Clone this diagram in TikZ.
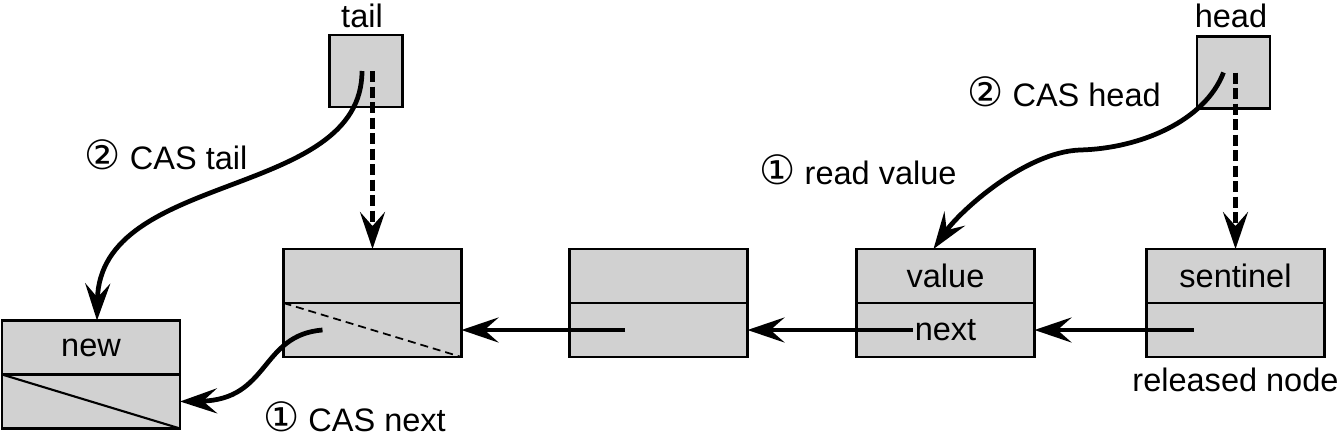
\documentclass[tikz,border=0pt]{standalone}
\usepackage{fontspec}
\setmainfont{Liberation Sans}
\newfontfamily\circfont{DejaVu Sans}
\usetikzlibrary{positioning,arrows.meta}
\tikzset{
  cellbox/.style={draw, line width=1.3pt, fill=black!18, minimum width=3.56cm, minimum height=1.08cm, inner sep=0pt, outer sep=0pt},
  ptrbox/.style={draw, line width=1.3pt, fill=black!18, minimum width=1.46cm, minimum height=1.44cm, inner sep=0pt},
  linkarrow/.style={-{Stealth[length=7.4mm, width=5mm, inset=2.8mm]}, line width=2.7pt},
  oldarrow/.style={linkarrow, dash pattern=on 2.2mm off 0.9mm},
  relabel/.style={inner sep=1pt}
}
\newcommand{\stepno}[1]{{\circfont\fontsize{23}{21}\selectfont #1}}

\begin{document}
\begin{tikzpicture}[every node/.style={font=\fontsize{18.5}{21}\selectfont}]
  \useasboundingbox (0,0) rectangle (26.86,8.82);
  % head and tail
  \node[ptrbox] (tailptr) at (7.32,7.40) {};
  \node[ptrbox] (headptr) at (24.67,7.37) {};
  \node (taillbl) at (7.24,8.50) {tail};
  \node (headlbl) at (24.62,8.50) {head};
  % list cells
  \node[cellbox] (newval) at (1.82,1.87) {new};
  \node[cellbox, below=0pt of newval] (newnxt) {};
  \node[cellbox] (n2val) at (7.45,3.30) {};
  \node[cellbox, below=0pt of n2val] (n2nxt) {};
  \node[cellbox, right=2.16cm of n2val] (n3val) {};
  \node[cellbox, below=0pt of n3val] (n3nxt) {};
  \node[cellbox, right=2.18cm of n3val] (valval) {value};
  \node[cellbox, below=0pt of valval] (valnxt) {next};
  \node[cellbox, right=2.24cm of valval] (sentval) {sentinel};
  \node[cellbox, below=0pt of sentval] (sentnxt) {};
  \node[below=0.1cm of sentnxt] (rellbl) {released node};
  \draw[line width=1.2pt] (newnxt.north west) -- (newnxt.south east);
  \draw[line width=1pt, dash pattern=on 1.6mm off 1mm] (n2nxt.north west) -- (n2nxt.south east);
  % step labels
  \node[relabel] (castail) at (3.32,5.72) {\stepno{②} CAS tail};
  \node[relabel] (readval) at (17.16,5.42) {\stepno{①} read value};
  \node[relabel] (cashead) at (21.28,6.98) {\stepno{②} CAS head};
  \node[relabel] (casnext) at (7.09,0.48) {\stepno{①} CAS next};
  % pointers
  \draw[oldarrow] (tailptr.center -| n2val.north) -- (n2val.north);
  \draw[oldarrow] (headptr.center -| sentval.north) -- (sentval.north);
  \draw[linkarrow] ([xshift=-0.08cm]tailptr.center) .. controls (7.24,4.82) and (2.0,5.42) .. ([xshift=0.12cm]newval.north);
  \draw[linkarrow] ([xshift=-0.2cm]headptr.center) .. controls (24.1,6.4) and (22.8,5.85) .. (21.6,5.82)
    .. controls (20.5,5.78) and (19.2,4.6) .. ([xshift=-0.24cm]valval.north);
  \draw[linkarrow] ([xshift=-0.84cm]sentnxt.center) -- (valnxt.east);
  \draw[linkarrow] ([xshift=-0.66cm]valnxt.center) -- (n3nxt.east);
  \draw[linkarrow] ([xshift=-0.67cm]n3nxt.center) -- (n2nxt.east);
  \draw[linkarrow] ([xshift=-1.0cm]n2nxt.center) .. controls (5.2,2.12) and (5.4,0.82) .. (newnxt.east);
\end{tikzpicture}
\end{document}
